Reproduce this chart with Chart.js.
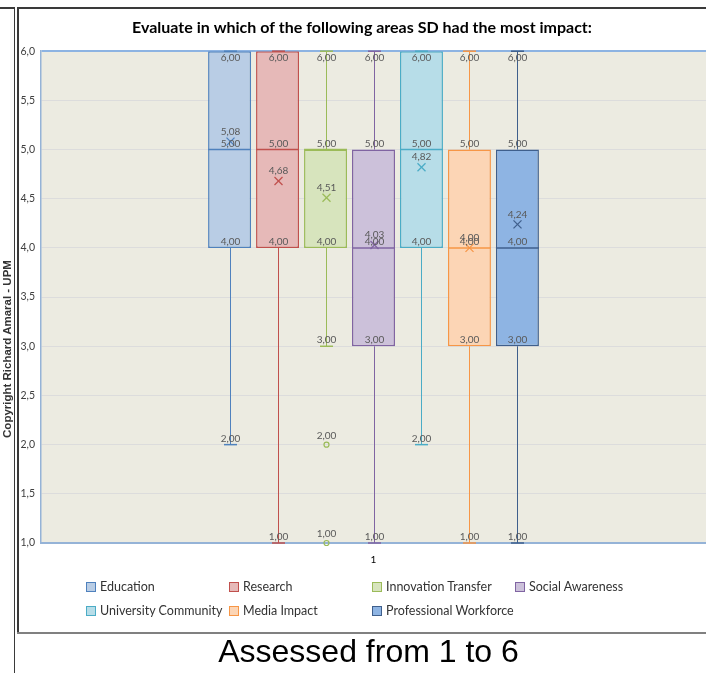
<!DOCTYPE html>
<html>
<head>
<meta charset="utf-8">
<script src="https://cdn.jsdelivr.net/npm/chart.js@4"></script>
<style>
  body { margin: 0; background: #fff; }
  #wrap { position: relative; width: 706px; height: 673px; overflow: hidden; }
  #chart { position: absolute; left: 0; top: 0; }
  .ln { position: absolute; background: #3a3a3a; }
  #copyright {
    position: absolute; left: 7px; top: 349px; width: 240px; margin-left: -120px;
    text-align: center; transform: translateY(-50%) rotate(-90deg);
    font: bold 11.5px "Liberation Sans", Arial, sans-serif; color: #333; white-space: nowrap;
  }
  #footer {
    position: absolute; left: 0; width: 737px; top: 633px; text-align: center;
    font: 32px "Liberation Sans", Arial, sans-serif; color: #000;
  }
  .lg { position: absolute; font: 12.5px Lato, sans-serif; color: #333; white-space: nowrap; line-height: 16px; }
  .lg span { display: inline-block; width: 8px; height: 8px; border: 1px solid; vertical-align: -1px; margin-right: 4px; }
</style>
</head>
<body>
<div id="wrap">
  <canvas id="chart" width="706" height="673"></canvas>
  <div class="ln" style="left:0;top:7px;width:15px;height:1.5px"></div>
  <div class="ln" style="left:13.5px;top:7px;width:1.5px;height:666px"></div>
  <div class="ln" style="left:17px;top:7px;width:689px;height:1.5px"></div>
  <div class="ln" style="left:17px;top:7px;width:1.5px;height:626px"></div>
  <div class="ln" style="left:17px;top:631.5px;width:689px;height:2px;background:#808080"></div>
  <div id="copyright">Copyright Richard Amaral - UPM</div>
  <div id="footer">Assessed from 1 to 6</div>
</div>
<script>
// Box plot values
const categories = ['1'];
const seriesNames = ['Education', 'Research', 'Innovation Transfer', 'Social Awareness',
    'University Community', 'Media Impact', 'Professional Workforce'];
const mins = [2, 1, 3, 1, 2, 1, 1];
const q1s = [4, 4, 4, 3, 4, 3, 3];
const medians = [5, 5, 5, 4, 5, 4, 4];
const q3s = [6, 6, 5, 5, 6, 5, 5];
const maxs = [6, 6, 6, 6, 6, 6, 6];
const means = [5.08, 4.68, 4.51, 4.03, 4.82, 4.00, 4.24];
const outliers = [[], [], [2, 1], [], [], [], []];
const yMin = 1, yMax = 6, yStep = 0.5;

const fillColors = ['#b9cde5', '#e6b9b8', '#d7e4bd', '#ccc1da', '#b7dde8', '#fcd5b5', '#8eb4e3'];
const lineColors = ['#4f81bd', '#c0504d', '#9bbb59', '#8064a2', '#4bacc6', '#f79646', '#3f5f8c'];

const fmt = (v, d) => v.toFixed(d).replace('.', ',');

// Plot background + whiskers, medians, means, outliers and value labels
const boxExtras = {
    id: 'boxExtras',
    beforeDraw(chart) {
        const { ctx, chartArea: a } = chart;
        ctx.save();
        ctx.fillStyle = '#ecebe1';
        ctx.fillRect(a.left, a.top, a.right - a.left, a.bottom - a.top);
        ctx.restore();
    },
    afterDatasetsDraw(chart) {
        const { ctx } = chart;
        const y = chart.scales.y;
        const py = v => y.getPixelForValue(v);

        const label = (text, cx, px, below) => {
            ctx.textBaseline = below ? 'top' : 'bottom';
            ctx.fillText(text, cx, below ? px + 2 : px - 1);
        };
        const line = (x1, y1, x2, y2) => {
            ctx.beginPath(); ctx.moveTo(x1, y1); ctx.lineTo(x2, y2); ctx.stroke();
        };

        chart.data.datasets.forEach((ds, i) => {
            const bar = chart.getDatasetMeta(i).data[0];
            const cx = Math.round(bar.x) + 0.5, half = bar.width / 2;
            const col = lineColors[i];
            ctx.save();
            ctx.strokeStyle = col;

            // whiskers
            ctx.lineWidth = 1;
            line(cx, py(q3s[i]), cx, py(maxs[i]));
            line(cx, py(q1s[i]), cx, py(mins[i]));
            ctx.lineWidth = 1.5;
            line(cx - 6.5, py(maxs[i]), cx + 6.5, py(maxs[i]));
            line(cx - 6.5, py(mins[i]), cx + 6.5, py(mins[i]));

            // median
            line(bar.x - half, py(medians[i]), bar.x + half, py(medians[i]));

            // mean cross
            const my = py(means[i]);
            ctx.lineWidth = 1.2;
            line(cx - 4, my - 4, cx + 4, my + 4);
            line(cx - 4, my + 4, cx + 4, my - 4);

            // outliers
            outliers[i].forEach(v => {
                ctx.beginPath();
                ctx.arc(cx, py(v), 2.5, 0, Math.PI * 2);
                ctx.stroke();
            });

            // labels
            ctx.fillStyle = '#595959';
            ctx.font = '10px Lato, sans-serif';
            ctx.textAlign = 'center';
            const vals = [...new Set([mins[i], q1s[i], medians[i], q3s[i], maxs[i], ...outliers[i]])];
            vals.forEach(v => {
                const off = outliers[i].includes(v) ? 3 : 0;
                label(fmt(v, 2), cx, py(v) - off, v >= yMax);
            });
            label(fmt(means[i], 2), cx, my - 4, false);
            ctx.restore();
        });
    }
};

const ctx = document.getElementById('chart').getContext('2d');
new Chart(ctx, {
    type: 'bar',
    data: {
        labels: categories,
        datasets: seriesNames.map((name, i) => ({
            label: name,
            data: [[q1s[i], q3s[i]]],
            backgroundColor: fillColors[i],
            borderColor: lineColors[i],
            borderWidth: 1.5,
            borderSkipped: false,
            categoryPercentage: 0.505,
            barPercentage: 0.896
        }))
    },
    options: {
        responsive: false,
        animation: false,
        layout: { padding: { left: 18, right: 0, top: 0, bottom: 102 } },
        plugins: {
            legend: { display: false },
            tooltip: { enabled: false },
            title: {
                display: true,
                text: 'Evaluate in which of the following areas SD had the most impact:',
                color: '#000',
                font: { family: 'Lato', size: 16, weight: 'bold' },
                padding: { top: 18, bottom: 14 }
            }
        },
        scales: {
            x: {
                grid: { display: false },
                border: { color: '#95b3d7', width: 2 },
                ticks: { color: '#000', font: { family: 'Lato', size: 10 }, padding: 3 },
                afterFit(s) { s.height = 28; }
            },
            y: {
                min: yMin,
                max: yMax,
                ticks: {
                    stepSize: yStep,
                    color: '#404040',
                    font: { family: 'Lato', size: 10.5 },
                    padding: 6,
                    callback: v => fmt(v, 1)
                },
                grid: {
                    drawTicks: false,
                    color: c => c.tick && c.tick.value === yMax ? '#8db3e2' : '#dcdcdc',
                    lineWidth: c => c.tick && c.tick.value === yMax ? 2 : 1
                },
                border: { color: '#95b3d7', width: 1.5 },
                afterFit(s) { s.width = 23; }
            }
        }
    },
    plugins: [boxExtras]
});

// Legend in a 4-column grid, as in the original
const wrap = document.getElementById('wrap');
seriesNames.forEach((name, i) => {
    const d = document.createElement('div');
    d.className = 'lg';
    d.style.left = (86 + (i % 4) * 143) + 'px';
    d.style.top = (579 + Math.floor(i / 4) * 24) + 'px';
    d.innerHTML = '<span style="background:' + fillColors[i] + ';border-color:' + lineColors[i] + '"></span>' + name;
    wrap.appendChild(d);
});
</script>
</body>
</html>
